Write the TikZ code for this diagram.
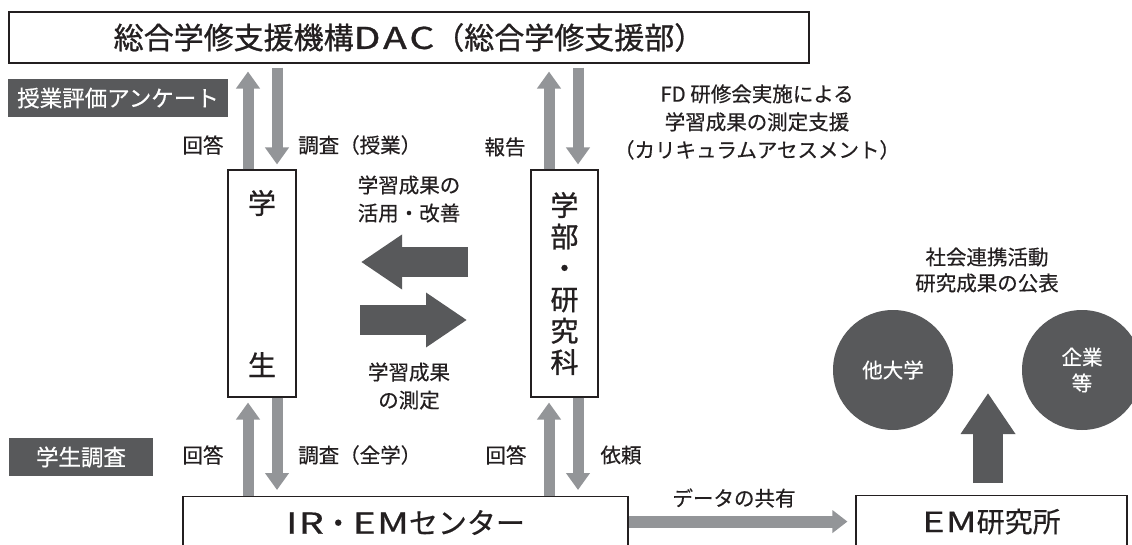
\documentclass[tikz,border=0pt]{standalone}
\usepackage{graphicx}
\usepackage{fontspec}
\setmainfont{Noto Sans CJK JP}[FakeBold=0.45]
\newfontfamily\headfont{Noto Sans CJK JP}[FakeBold=0.9]
\usetikzlibrary{arrows.meta}
\definecolor{ink}{HTML}{231F20}
\definecolor{dark}{HTML}{58595B}
\definecolor{lgray}{HTML}{939598}
\newcommand{\widelatin}[1]{\scalebox{1.35}[1]{#1}}
\begin{document}
\begin{tikzpicture}[x=1pt,y=-1pt,
  box/.style={draw=ink, line width=1.1pt, fill=white, inner sep=0pt, text=ink},
  tag/.style={fill=dark, text=white, inner sep=0pt, font=\fontsize{22.5}{27}\selectfont},
  lbl/.style={inner sep=0pt, align=center, text=ink, font=\fontsize{20.5}{28}\selectfont},
  disc/.style={circle, fill=dark, minimum size=120pt, inner sep=0pt, text=white, align=center, font=\fontsize{20.5}{26}\selectfont},
  garrow/.style={draw=lgray, line width=11pt, -{Triangle[width=23pt,length=17pt]}},
  darrow/.style={draw=dark, line width=30pt, -{Triangle[width=52pt,length=41pt]}}]
\useasboundingbox (0,0) rectangle (1132,545);

% boxes
\node[box, minimum width=800pt, minimum height=51pt, font=\headfont\fontsize{30}{34}\selectfont] (top) at (409,37.5) {総合学修支援機構\scalebox{1.3}[1]{D\hspace{2pt}A\hspace{2pt}C}（総合学修支援部）};
\node[tag, minimum width=220pt, minimum height=38pt] (tagA) at (118,98) {授業評価アンケート};
\node[tag, minimum width=144pt, minimum height=38pt] (tagB) at (81,457) {学生調査};
\node[box, minimum width=68pt, minimum height=227pt, align=center, font=\headfont\fontsize{28}{162}\selectfont] (stu) at (262,283.5) {学\\生};
\node[box, minimum width=67pt, minimum height=227pt, align=center, font=\headfont\fontsize{28}{31.4}\selectfont] (fac) at (564.5,283.5) {学\\部\\・\\研\\究\\科};
\node[box, minimum width=445pt, minimum height=52pt, anchor=north, font=\fontsize{29}{32}\selectfont] (ir) at (405.5,496) {\widelatin{I\hspace{1pt}R}・\widelatin{E\hspace{1pt}M}センター};
\node[box, minimum width=271pt, minimum height=52pt, anchor=north, font=\fontsize{28}{32}\selectfont] (em) at (991.5,495) {\widelatin{E\hspace{1pt}M}研究所};
\node[disc] (univ) at (893,370) {他大学};
\node[disc] (corp) at (1082,370) {企業\\等};

% labels
\node[lbl] (a1) at (203,145) {回答};
\node[lbl, anchor=west] (q1) at (298,145) {調査（授業）};
\node[lbl] (r1) at (505,147) {報告};
\node[lbl] (fd) at (757,122) {FD 研修会実施による\\学習成果の測定支援\\（カリキュラムアセスメント）};
\node[lbl] (m1) at (409,199) {学習成果の\\活用・改善};
\node[lbl] (m2) at (409,386) {学習成果\\の測定};
\node[lbl, font=\fontsize{20.5}{26}\selectfont] (soc) at (987,270) {社会連携活動\\研究成果の公表};
\node[lbl] (a2) at (203,455) {回答};
\node[lbl, anchor=west] (q2) at (298,455) {調査（全学）};
\node[lbl] (a3) at (506,455) {回答};
\node[lbl] (req) at (621,455) {依頼};
\node[lbl] (share) at (734,498) {データの共有};

% gray arrows: top
\draw[garrow] ([xshift=-14pt]stu.north) -- ([xshift=-14pt,yshift=-8pt]stu.north |- top.south);
\draw[garrow] ([xshift=15pt,yshift=-4pt]stu.north |- top.south) -- ([xshift=15pt,yshift=5pt]stu.north);
\draw[garrow] ([xshift=-15.5pt]fac.north) -- ([xshift=-15.5pt,yshift=-8pt]fac.north |- top.south);
\draw[garrow] ([xshift=13.5pt,yshift=-4pt]fac.north |- top.south) -- ([xshift=13.5pt,yshift=5pt]fac.north);
% gray arrows: bottom
\draw[garrow] ([xshift=-14pt]stu.south |- ir.north) -- ([xshift=-14pt,yshift=-5pt]stu.south);
\draw[garrow] ([xshift=15pt]stu.south) -- ([xshift=15pt,yshift=6pt]stu.south |- ir.north);
\draw[garrow] ([xshift=-15.5pt]fac.south |- ir.north) -- ([xshift=-15.5pt,yshift=-5pt]fac.south);
\draw[garrow] ([xshift=13.5pt]fac.south) -- ([xshift=13.5pt,yshift=6pt]fac.south |- ir.north);
% data sharing
\draw[draw=lgray, line width=12pt, -{Triangle[width=22pt,length=15pt]}] ([yshift=1pt]ir.east) -- ([xshift=-8pt]em.west);

% dark arrows
\coordinate (la1) at (468,262);
\coordinate (la2) at (361,262);
\coordinate (ra1) at (360,320);
\coordinate (ra2) at (467,320);
\coordinate (emtip) at (988,393);
\draw[darrow] (la1) -- (la2);
\draw[darrow] (ra1) -- (ra2);
\draw[darrow] ([yshift=12pt]em.north -| emtip) -- (emtip);
\end{tikzpicture}
\end{document}
